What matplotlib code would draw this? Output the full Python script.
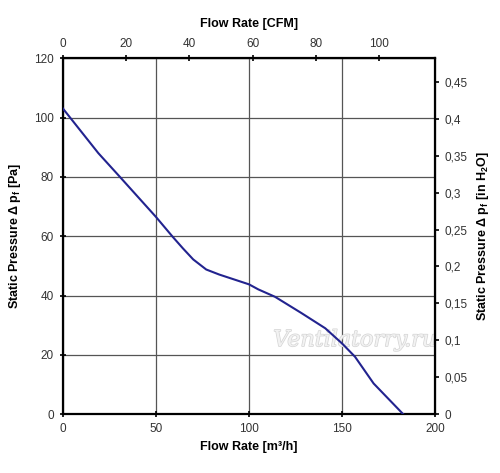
import matplotlib.pyplot as plt
import matplotlib.patheffects as pe
from matplotlib.ticker import FuncFormatter, MultipleLocator

plt.rcParams['font.family'] = ['Liberation Sans', 'DejaVu Sans']

# curve
flow_m3h = [0, 19, 30.6, 50, 59, 64.5, 70, 77, 84, 100, 105, 114, 128, 141, 150, 157, 167, 175, 183]
pressure_pa = [103, 88, 80, 66.5, 59.8, 55.9, 52.2, 48.8, 47.1, 43.8, 42.1, 39.6, 34.2, 29.0, 23.9, 19.4, 10.4, 5.2, 0]

M3H_PER_CFM = 1.699
PA_PER_INH2O = 249.09

fig = plt.figure(figsize=(5, 4.73), dpi=100)
ax = fig.add_axes([0.126, 0.124, 0.744, 0.753])

ax.plot(flow_m3h, pressure_pa, color='#22238f', lw=1.5, zorder=3)
ax.set_xlim(0, 200)
ax.set_ylim(0, 120)
ax.xaxis.set_major_locator(MultipleLocator(50))
ax.yaxis.set_major_locator(MultipleLocator(20))
ax.grid(True, color='#555555', lw=0.9)
for s in ax.spines.values():
    s.set_linewidth(1.6)
ax.tick_params(direction='inout', length=5, width=1.2, labelsize=8.5, labelcolor='#333333', pad=4)
ax.set_xlabel('Flow Rate [m³/h]', fontweight='bold', fontsize=9)
ax.set_ylabel('Static Pressure Δ p$_\\mathregular{f}$ [Pa]', fontweight='bold', fontsize=9, labelpad=8)

top = ax.secondary_xaxis('top', functions=(lambda x: x / M3H_PER_CFM, lambda x: x * M3H_PER_CFM))
top.xaxis.set_major_locator(MultipleLocator(20))
top.tick_params(direction='inout', length=5, width=1.2, labelsize=8.5, labelcolor='#333333')
top.set_xlabel('Flow Rate [CFM]', fontweight='bold', fontsize=9, labelpad=8)

right = ax.secondary_yaxis('right', functions=(lambda y: y / PA_PER_INH2O, lambda y: y * PA_PER_INH2O))
right.yaxis.set_major_locator(MultipleLocator(0.05))
right.yaxis.set_major_formatter(FuncFormatter(lambda v, p: ('%g' % round(v, 2)).replace('.', ',')))
right.tick_params(direction='out', length=3, width=1.2, labelsize=8.5, labelcolor='#333333')
right.set_ylabel('Static Pressure Δ p$_\\mathregular{f}$ [in H$_\\mathregular{2}$O]', fontweight='bold', fontsize=9, labelpad=6)

# watermark, under the curve
ax.text(0.71, 0.281, 'Ventilatorry.ru', transform=fig.transFigure, fontsize=16,
        family='DejaVu Serif', style='italic', color='#f2f2f2', ha='center', va='center', zorder=2.5,
        path_effects=[pe.withStroke(linewidth=1.0, foreground='#d4d4d4')])

fig.savefig('out.png', dpi=100)
